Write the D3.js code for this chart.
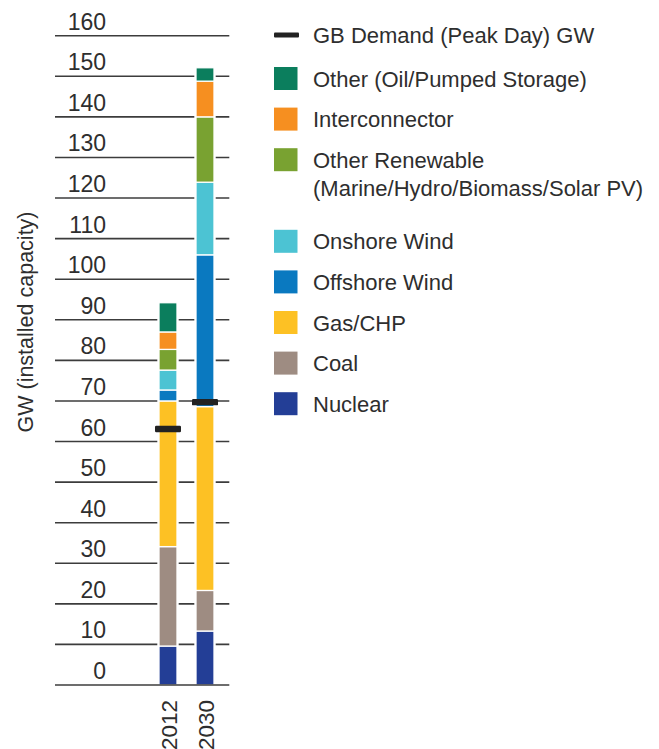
<!DOCTYPE html>
<html>
<head>
<meta charset="utf-8">
<script src="https://cdnjs.cloudflare.com/ajax/libs/d3/7.8.5/d3.min.js"></script>
<style>
  html, body { margin: 0; padding: 0; background: #fff; }
  svg { display: block; font-family: "Liberation Sans", Arial, Helvetica, sans-serif; }
</style>
</head>
<body>
<svg id="chart" width="659" height="749"></svg>
<script>
// GB installed generation capacity by source, 2012 vs 2030 (GW)
const years = ["2012", "2030"];
const sources = ["Nuclear", "Coal", "Gas/CHP", "Offshore Wind", "Onshore Wind",
  "Other Renewable", "Interconnector", "Other (Oil/Pumped Storage)"];
const nuclear        = [9.6, 13.3];
const coal           = [24.5, 10.0];
const gasChp         = [35.9, 45.3];
const offshoreWind   = [2.7, 37.4];
const onshoreWind    = [4.9, 17.9];
const otherRenewable = [5.1, 16.1];
const interconnector = [4.3, 8.8];
const otherOilPumped = [7.2, 3.3];
const peakDemand     = [63.1, 69.7];
const yTicks = [0, 10, 20, 30, 40, 50, 60, 70, 80, 90, 100, 110, 120, 130, 140, 150, 160];

const colors = ["#233e96", "#9e8c82", "#fdc124", "#0a79c0", "#4cc3d3",
  "#79a231", "#f68f20", "#0b7e5d"];
const demandColor = "#222222";

// legend entries, top to bottom
const legendLabels = [
  ["Other (Oil/Pumped Storage)"],
  ["Interconnector"],
  ["Other Renewable", "(Marine/Hydro/Biomass/Solar PV)"],
  ["Onshore Wind"],
  ["Offshore Wind"],
  ["Gas/CHP"],
  ["Coal"],
  ["Nuclear"]
];
const legendColors = ["#0b7e5d", "#f68f20", "#79a231", "#4cc3d3", "#0a79c0", "#fdc124", "#9e8c82", "#233e96"];

const seriesValues = [nuclear, coal, gasChp, offshoreWind, onshoreWind, otherRenewable, interconnector, otherOilPumped];
const table = years.map((yr, i) => {
  const row = { year: yr };
  sources.forEach((s, k) => { row[s] = seriesValues[k][i]; });
  return row;
});

const svg = d3.select("#chart");
const textColor = "#2e2e2e";

const y = d3.scaleLinear().domain([0, 160]).range([685, 35.7]);
const x = d3.scaleBand().domain(years).range([149, 224]).paddingInner(0.5135).paddingOuter(0.27);

const gridLeft = 55, gridRight = 229.3;

// gridlines and tick labels
const grid = svg.append("g");
grid.selectAll("line").data(yTicks.filter(t => t !== 0)).join("line")
  .attr("x1", gridLeft).attr("x2", gridRight)
  .attr("y1", d => y(d)).attr("y2", d => y(d))
  .attr("stroke", "#3c3c3c").attr("stroke-width", 1.6);

svg.append("g").selectAll("text").data(yTicks).join("text")
  .attr("x", 106).attr("y", d => y(d) - 6)
  .attr("text-anchor", "end")
  .attr("font-size", 23).attr("fill", textColor)
  .text(d => d);

// y axis title
svg.append("text")
  .attr("transform", "translate(33,322) rotate(-90)")
  .attr("text-anchor", "middle")
  .attr("font-size", 21.5).attr("fill", textColor)
  .text("GW (installed capacity)");

// stacked bars
const stack = d3.stack().keys(sources)(table);
const bars = svg.append("g");
// white backing so gridlines break around each bar
bars.selectAll("rect.back").data(table).join("rect")
  .attr("class", "back")
  .attr("x", d => x(d.year) - 1.7)
  .attr("width", x.bandwidth() + 3.4)
  .attr("y", d => y(d3.sum(sources, s => d[s])) - 1)
  .attr("height", d => y(0) - y(d3.sum(sources, s => d[s])) + 1)
  .attr("fill", "#fff");

bars.selectAll("g.layer").data(stack).join("g")
  .attr("class", "layer")
  .attr("fill", (d, i) => colors[i])
  .selectAll("rect").data(d => d).join("rect")
  .attr("x", d => x(d.data.year))
  .attr("width", x.bandwidth())
  .attr("y", d => y(d[1]))
  .attr("height", d => y(d[0]) - y(d[1]))
  .attr("stroke", "#fff").attr("stroke-width", 1.3);

// baseline drawn over the bars
svg.append("line")
  .attr("x1", gridLeft).attr("x2", gridRight)
  .attr("y1", y(0)).attr("y2", y(0))
  .attr("stroke", "#3c3c3c").attr("stroke-width", 1.6);

// peak-day demand markers
svg.append("g").selectAll("rect").data(years).join("rect")
  .attr("x", (d) => x(d) + x.bandwidth() / 2 - 13)
  .attr("width", 26)
  .attr("y", (d, i) => y(peakDemand[i]) - 3.2)
  .attr("height", 6.4)
  .attr("rx", 1.2)
  .attr("fill", demandColor);

// year labels
svg.append("g").selectAll("text").data(years).join("text")
  .attr("transform", d => `translate(${x(d) + x.bandwidth() / 2 + 8.8},700) rotate(-90)`)
  .attr("text-anchor", "end")
  .attr("font-size", 22.5).attr("fill", textColor)
  .text(d => d);

// legend
const legend = svg.append("g");
const lx = 274, tx = 313;
const legendFont = 22;
legend.append("rect")
  .attr("x", lx).attr("y", 32.5).attr("width", 25).attr("height", 5)
  .attr("rx", 1).attr("fill", demandColor);
legend.append("text")
  .attr("x", tx).attr("y", 43)
  .attr("font-size", legendFont).attr("fill", textColor)
  .text("GB Demand (Peak Day) GW");

let rowY = 78.5;
legendLabels.forEach((lines, i) => {
  legend.append("rect")
    .attr("x", lx).attr("y", rowY - 11.5).attr("width", 23.5).attr("height", 23)
    .attr("fill", legendColors[i]);
  lines.forEach((ln, j) => {
    legend.append("text")
      .attr("x", tx).attr("y", rowY + 8 + j * 28)
      .attr("font-size", legendFont).attr("fill", textColor)
      .text(ln);
  });
  rowY += 40.6 + (lines.length - 1) * 41;
});
</script>
</body>
</html>
